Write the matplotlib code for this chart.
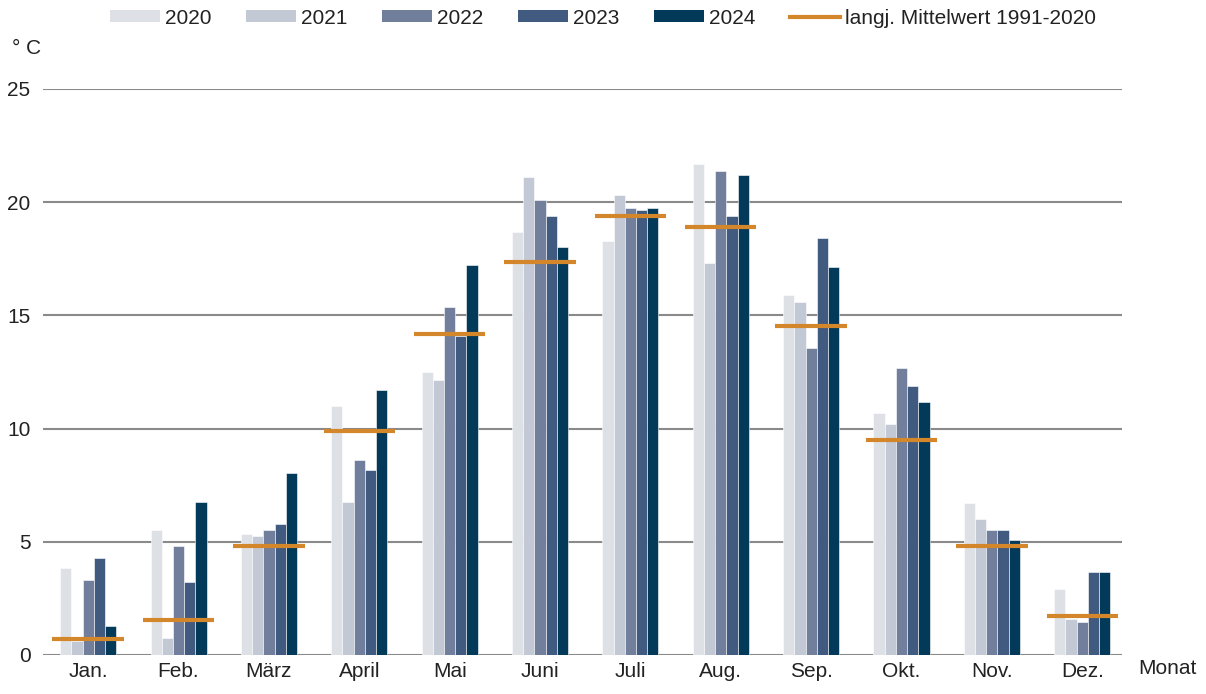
import numpy as np
import matplotlib
matplotlib.use('Agg')
import matplotlib.pyplot as plt
from matplotlib.patches import Patch
from matplotlib.lines import Line2D

plt.rcParams['font.family'] = ['Liberation Sans', 'DejaVu Sans']

months = ['Jan.', 'Feb.', 'März', 'April', 'Mai', 'Juni',
          'Juli', 'Aug.', 'Sep.', 'Okt.', 'Nov.', 'Dez.']
years = ['2020', '2021', '2022', '2023', '2024']

t2020 = [3.86, 5.52, 5.34, 11.0, 12.5, 18.7, 18.3, 21.7, 15.9, 10.7, 6.7, 2.9]
t2021 = [0.6, 0.77, 5.27, 6.76, 12.15, 21.1, 20.3, 17.3, 15.6, 10.2, 6.0, 1.6]
t2022 = [3.31, 4.81, 5.52, 8.6, 15.35, 20.1, 19.76, 21.36, 13.56, 12.68, 5.5, 1.46]
t2023 = [4.28, 3.22, 5.79, 8.17, 14.1, 19.4, 19.67, 19.4, 18.43, 11.9, 5.5, 3.67]
t2024 = [1.28, 6.76, 8.02, 11.7, 17.21, 18.0, 19.76, 21.19, 17.12, 11.19, 5.06, 3.67]
mean_9120 = [0.7, 1.56, 4.83, 9.88, 14.19, 17.37, 19.4, 18.89, 14.55, 9.51, 4.83, 1.74]

colors = ['#dde1e6', '#c3c8d5', '#717f9c', '#415a80', '#033a5a']
mean_color = '#d4862a'
txt = '#222222'
FS = 15

fig = plt.figure(figsize=(12.06, 6.94), dpi=100)
ax = fig.add_axes([43 / 1206, 1 - 655 / 694, (1122 - 43) / 1206, (655 - 89) / 694])

x = np.arange(len(months))
w = 0.124
series = [t2020, t2021, t2022, t2023, t2024]
for k, (vals, c) in enumerate(zip(series, colors)):
    ax.bar(x + (k - 2) * w, vals, width=w, color=c, edgecolor='white',
           linewidth=0.4, zorder=2)

ax.hlines(mean_9120, x - 0.395, x + 0.395, color=mean_color, linewidth=3, zorder=3)

ax.set_xlim(-0.5, 11.44)
ax.set_ylim(0, 25)
ax.set_yticks([0, 5, 10, 15, 20, 25])
ax.set_xticks(x)
ax.set_xticklabels(months)
ax.yaxis.grid(True, color='#8a8a8a', linewidth=1.5, zorder=0)
ax.set_axisbelow(True)
for s in ax.spines.values():
    s.set_visible(False)
ax.tick_params(axis='both', length=0, labelsize=FS, colors=txt)
ax.tick_params(axis='y', pad=9)
ax.tick_params(axis='x', pad=5)

fig.text(12 / 1206, 1 - 48 / 694, '° C', fontsize=FS, va='center', color=txt)
fig.text(1138 / 1206, 1 - 669 / 694, 'Monat', fontsize=FS, va='center', color=txt)

handles = [Patch(facecolor=c, edgecolor='none') for c in colors]
handles.append(Line2D([0], [0], color=mean_color, linewidth=3))
labels = years + ['langj. Mittelwert 1991-2020']
fig.legend(handles, labels, loc='center', bbox_to_anchor=(0.5, 0.974), ncol=6,
           frameon=False, fontsize=FS, handlelength=2.4, handleheight=0.48,
           handletextpad=0.25, columnspacing=1.65, labelcolor=txt)

fig.savefig('out.png', dpi=100)
